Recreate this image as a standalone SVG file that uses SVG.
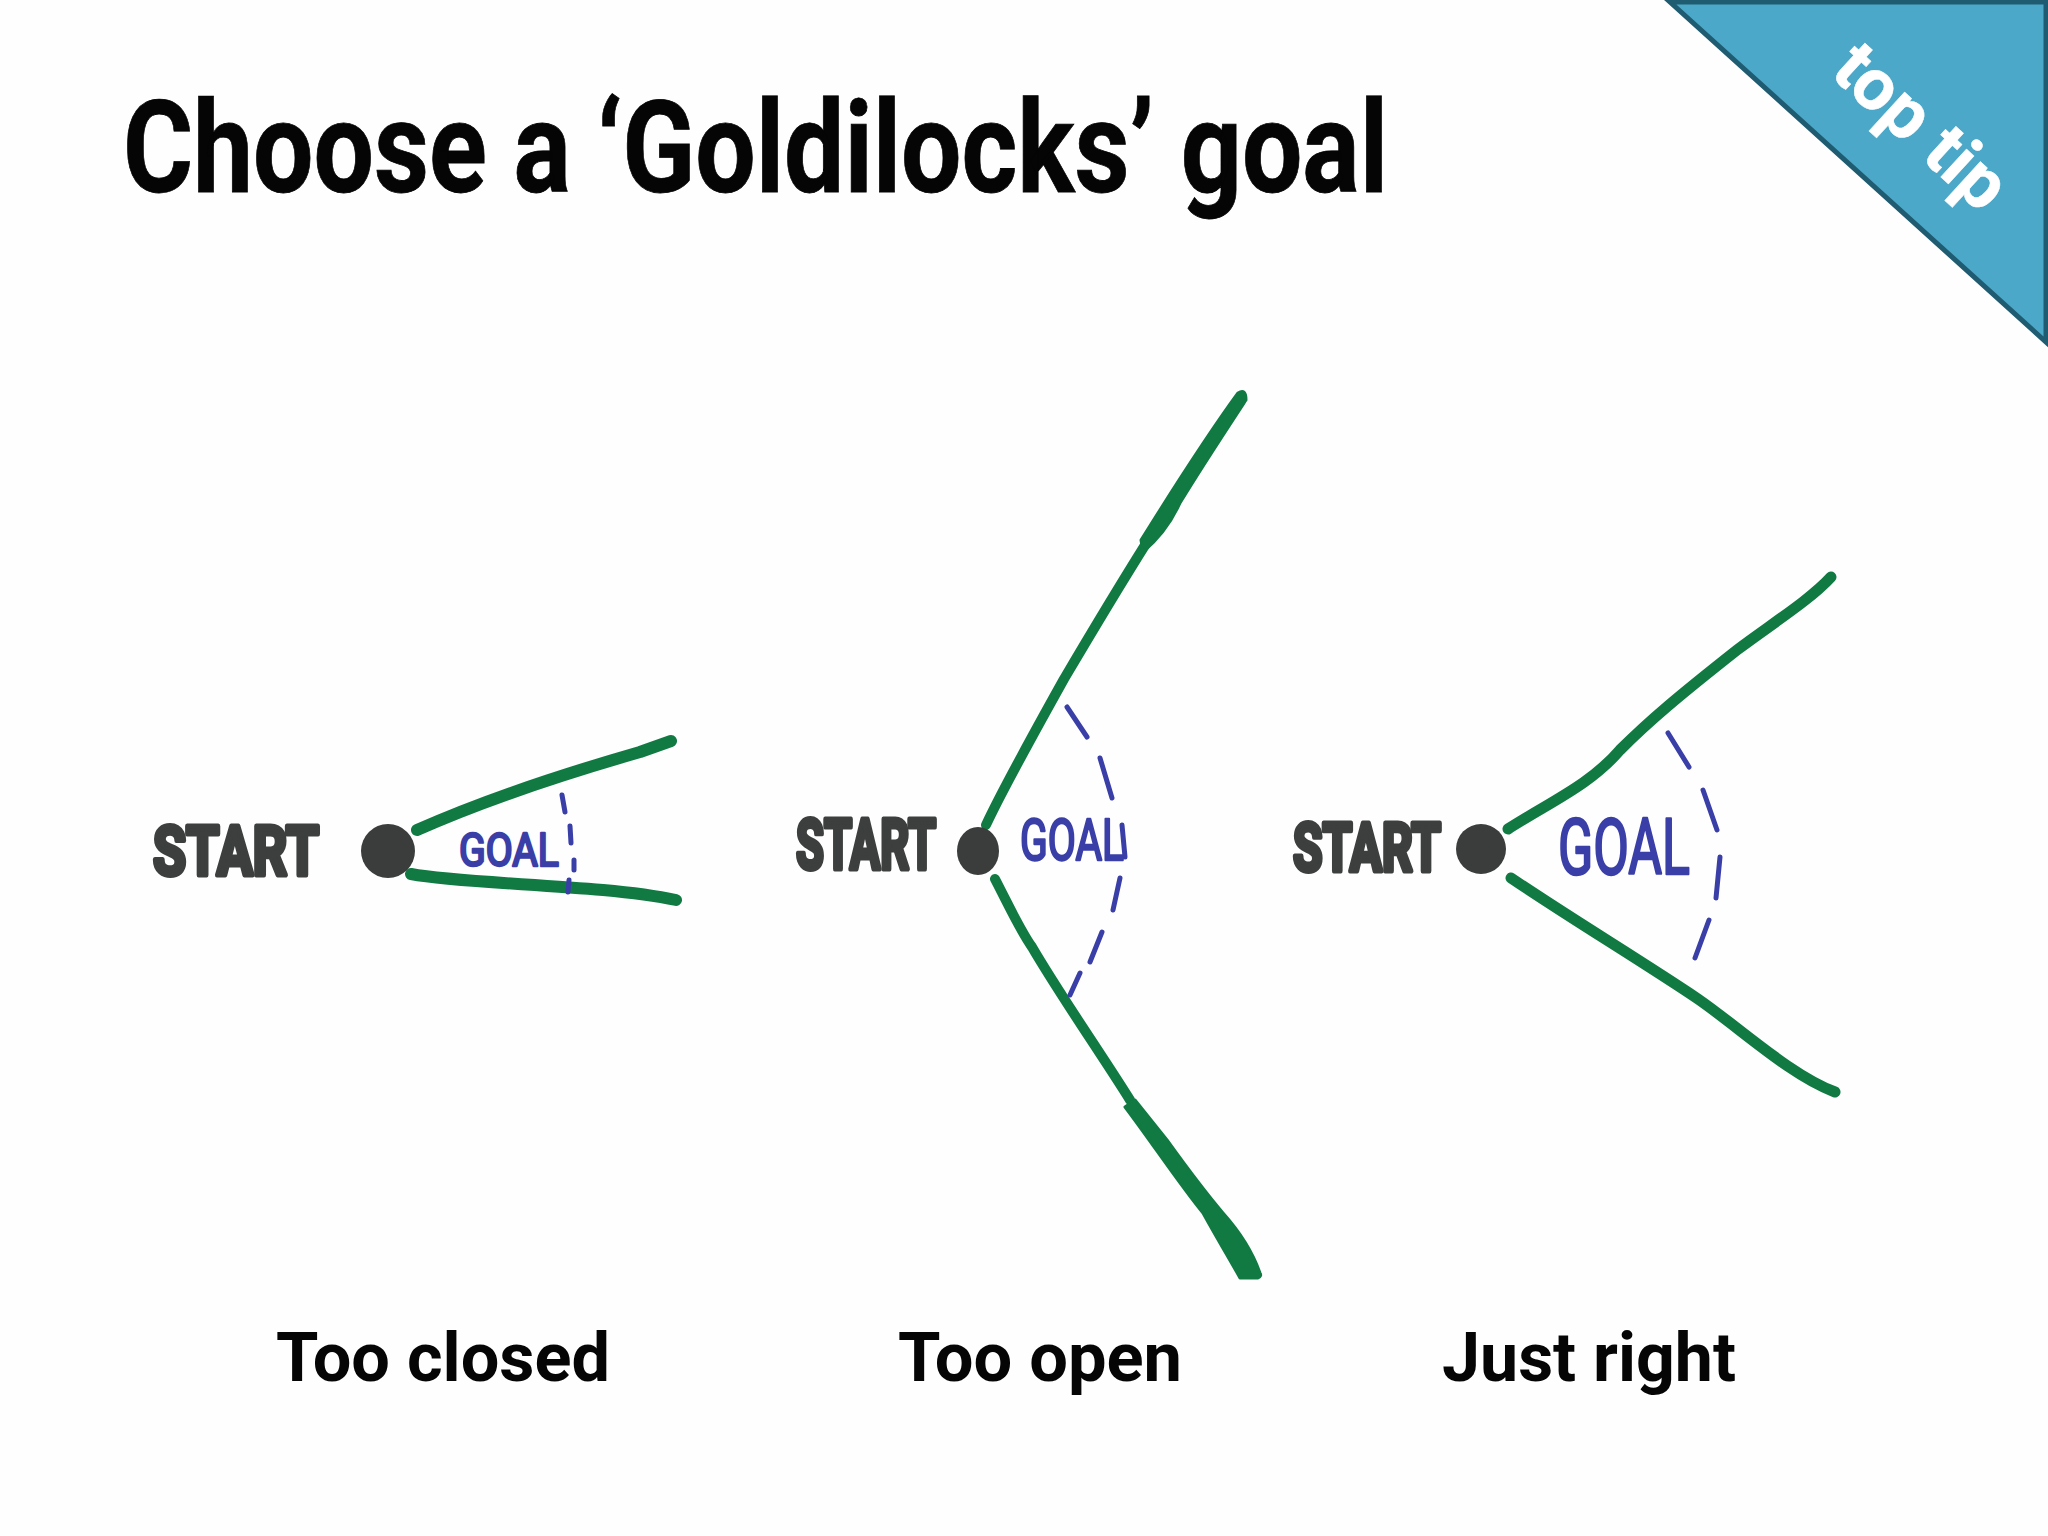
<svg xmlns="http://www.w3.org/2000/svg" width="2048" height="1536" viewBox="0 0 2048 1536">
<style>
.title{font-family:"Roboto","Liberation Sans",sans-serif;font-weight:700;fill:#050505}
.cap{font-size:68px}
.start{font-family:"Roboto","Liberation Sans",sans-serif;font-weight:700;fill:#3c3f3e;stroke:#3c3f3e;stroke-width:5;stroke-linejoin:round}
.goal{font-family:"Roboto","Liberation Sans",sans-serif;font-weight:400;fill:#3a3fa8;stroke:#3a3fa8;stroke-width:2.5;stroke-linejoin:round}
.dot{fill:#3a3d3c}
.arm{fill:none;stroke:#107a42;stroke-width:11;stroke-linecap:round;stroke-linejoin:round}
.blob{fill:#107a42;stroke:#107a42;stroke-width:3;stroke-linejoin:round}
.dash{fill:none;stroke:#3a3fa8;stroke-width:5;stroke-linecap:round}
</style>
<rect width="2048" height="1536" fill="#fefefe"/>
<g id="banner">
<polygon points="1670,2 2046,2 2046,342" fill="#4ca8c8" stroke="#1f5c72" stroke-width="5"/>
<text transform="translate(1920,128) rotate(42.5)" x="0" y="22" text-anchor="middle" font-family="Roboto, Liberation Sans, sans-serif" font-weight="700" font-size="72" fill="#ffffff" stroke="#ffffff" stroke-width="0.5" textLength="208" lengthAdjust="spacingAndGlyphs">top tip</text>
</g>
<text id="title" class="title" x="123" y="192" font-size="128" stroke="#050505" stroke-width="0.8" textLength="1265" lengthAdjust="spacingAndGlyphs">Choose a ‘Goldilocks’ goal</text>
<g id="connectors">
<path class="arm" style="stroke-width:12" d="M417,830 C480,802 560,775 640,752 L671,741"/>
<path class="arm" style="stroke-width:12" d="M411,874 C470,885 600,884 676,900"/>
<path class="dash" d="M562,795 L565,812 M570,826 L571,843 M574,860 L574,870 M569,880 L568,892"/>
<path class="arm" style="stroke-width:10" d="M986,825 C1000,795 1040,722 1064,679 C1090,635 1120,585 1147,542"/>
<path class="blob" d="M1141,540 C1160,510 1200,445 1238,393 Q1246,388 1246,400 C1225,432 1200,470 1180,503 C1170,525 1155,542 1143,552 Z"/>
<path class="arm" style="stroke-width:10" d="M995,879 C1010,908 1020,930 1032,947 C1060,995 1100,1052 1130,1100"/>
<path class="blob" d="M1125,1107 C1150,1140 1180,1185 1203,1213 C1215,1235 1230,1260 1240,1278 L1258,1278 Q1262,1276 1260,1273 C1252,1250 1240,1232 1223,1213 C1205,1192 1185,1165 1167,1140 L1135,1100 Z"/>
<path class="dash" d="M1067,707 L1087,737 M1100,758 L1112,798 M1122,825 L1125,857 M1120,878 L1113,910 M1102,932 L1090,962 M1080,973 L1070,995"/>
<path class="arm" d="M1508,829 C1550,802 1590,785 1620,750 C1650,720 1680,695 1737,650 C1770,625 1810,600 1831,577"/>
<path class="arm" d="M1511,878 C1570,918 1640,960 1698,999 C1740,1028 1790,1075 1835,1092"/>
<path class="dash" d="M1668,733 L1689,767 M1703,790 L1717,830 M1720,857 L1716,898 M1709,920 L1695,958"/>
</g>
<g id="panel-closed">
<circle class="dot" cx="388" cy="851" r="27"/>
<text class="start" x="153" y="875" font-size="68" textLength="166" lengthAdjust="spacingAndGlyphs">START</text>
<text class="goal" x="459" y="866" font-size="46" textLength="100" lengthAdjust="spacingAndGlyphs">GOAL</text>
</g>
<g id="panel-open">
<ellipse class="dot" cx="978" cy="851" rx="21" ry="24"/>
<text class="start" x="796" y="869" font-size="70" textLength="140" lengthAdjust="spacingAndGlyphs">START</text>
<text class="goal" x="1020" y="860" font-size="58" textLength="104" lengthAdjust="spacingAndGlyphs">GOAL</text>
</g>
<g id="panel-right">
<circle class="dot" cx="1481" cy="849" r="25"/>
<text class="start" x="1293" y="871" font-size="66" textLength="148" lengthAdjust="spacingAndGlyphs">START</text>
<text class="goal" x="1558" y="874" font-size="78" textLength="132" lengthAdjust="spacingAndGlyphs">GOAL</text>
</g>
<g id="captions">
<text class="title cap" x="276" y="1381" textLength="334" lengthAdjust="spacingAndGlyphs">Too closed</text>
<text class="title cap" x="898" y="1381" textLength="284" lengthAdjust="spacingAndGlyphs">Too open</text>
<text class="title cap" x="1442" y="1381" textLength="294" lengthAdjust="spacingAndGlyphs">Just right</text>
</g>
</svg>
